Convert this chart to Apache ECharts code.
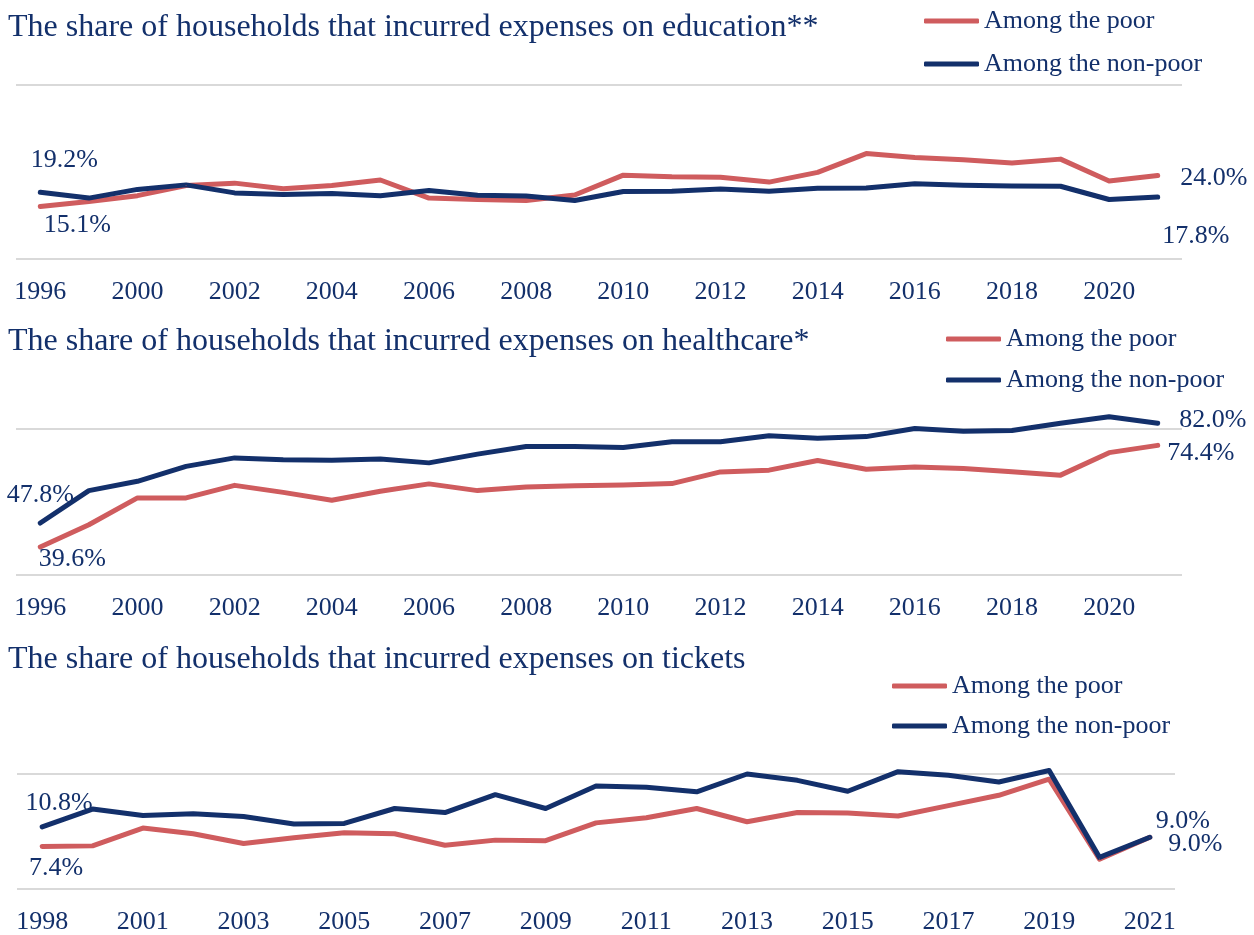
<!DOCTYPE html>
<html>
<head>
<meta charset="utf-8">
<script src="https://cdn.jsdelivr.net/npm/echarts@6/dist/echarts.min.js"></script>
<style>
html, body { margin: 0; padding: 0; background: #ffffff; }
#chartArea { width: 1254px; height: 935px; }
</style>
</head>
<body>
<div id="chartArea"></div>
<script>
// survey rounds
var eduYears = ['1996', '1998', '2000', '2001', '2002', '2003', '2004', '2005', '2006', '2007', '2008', '2009',
    '2010', '2011', '2012', '2013', '2014', '2015', '2016', '2017', '2018', '2019', '2020', '2021'];
var eduPoor = [15.1, 16.5, 18.2, 21.1, 21.8, 20.2, 21.1, 22.7, 17.5, 17.1, 16.8, 18.4,
    24.1, 23.6, 23.5, 22.1, 24.9, 30.3, 29.2, 28.5, 27.6, 28.7, 22.4, 24.0];
var eduNonPoor = [19.2, 17.5, 20.0, 21.3, 19.0, 18.5, 18.8, 18.2, 19.7, 18.3, 18.1, 16.8,
    19.4, 19.5, 20.1, 19.5, 20.3, 20.4, 21.6, 21.2, 21.0, 20.9, 17.1, 17.8];

var healthYears = eduYears;
var healthPoor = [39.6, 47.2, 56.4, 56.4, 60.7, 58.3, 55.6, 58.7, 61.2, 58.9, 60.1, 60.6,
    60.8, 61.3, 65.3, 65.9, 69.2, 66.2, 67.0, 66.5, 65.4, 64.2, 71.9, 74.4];
var healthNonPoor = [47.8, 58.9, 62.1, 67.2, 70.1, 69.5, 69.3, 69.7, 68.4, 71.4, 74.0, 74.0,
    73.7, 75.6, 75.6, 77.7, 76.8, 77.4, 80.2, 79.2, 79.5, 82.0, 84.2, 82.0];

var ticketYears = ['1998', '2000', '2001', '2002', '2003', '2004', '2005', '2006', '2007', '2008', '2009', '2010',
    '2011', '2012', '2013', '2014', '2015', '2016', '2017', '2018', '2019', '2020', '2021'];
var ticketPoor = [7.4, 7.5, 10.6, 9.6, 7.9, 8.9, 9.8, 9.6, 7.6, 8.5, 8.4, 11.5,
    12.4, 14.0, 11.7, 13.3, 13.2, 12.7, 14.5, 16.3, 19.1, 5.2, 9.0];
var ticketNonPoor = [10.8, 13.9, 12.8, 13.1, 12.6, 11.3, 11.4, 14.0, 13.3, 16.4, 14.0, 17.9,
    17.7, 16.9, 20.0, 18.9, 17.0, 20.4, 19.8, 18.6, 20.6, 5.5, 9.0];

var panelTitles = [
    'The share of households that incurred expenses on education**',
    'The share of households that incurred expenses on healthcare*',
    'The share of households that incurred expenses on tickets'
];
var seriesNames = ['Among the poor', 'Among the non-poor'];

var RED = '#CF5C5E';
var NAVY = '#13306B';
var FONT = '"Liberation Serif", "Times New Roman", serif';

var textStyle = {
    color: NAVY,
    fontFamily: FONT,
    fontSize: 26
};

// first / last value labels
function endLabels(values, first, last) {
    return values.map(function(v, i) {
        if (i === 0) return { value: v, label: Object.assign({ show: true }, first) };
        if (i === values.length - 1) return { value: v, label: Object.assign({ show: true }, last) };
        return v;
    });
}

function lineSeries(name, color, idx, data) {
    return {
        name: name,
        type: 'line',
        xAxisIndex: idx,
        yAxisIndex: idx,
        data: data,
        symbol: 'circle',
        symbolSize: 1,
        showSymbol: true,
        clip: false,
        silent: true,
        itemStyle: { color: color },
        lineStyle: { color: color, width: 5, cap: 'round', join: 'round' },
        label: {
            show: false,
            color: NAVY,
            fontFamily: FONT,
            fontSize: 26,
            formatter: function(p) {
                return p.value.toFixed(1) + '%';
            }
        }
    };
}

var grids = [
    { left: 16, right: 72, top: 85, height: 174 },
    { left: 16, right: 72, top: 429, height: 146 },
    { left: 17, right: 79, top: 774, height: 116 }
];

function xAxis(idx, cats) {
    return {
        type: 'category',
        gridIndex: idx,
        data: cats,
        boundaryGap: true,
        axisLine: { show: false },
        axisTick: { show: false },
        axisLabel: Object.assign({ interval: 1, margin: 20 }, textStyle)
    };
}

function yAxis(idx, min, max, step) {
    return {
        type: 'value',
        gridIndex: idx,
        min: min,
        max: max,
        interval: step,
        axisLine: { show: false },
        axisTick: { show: false },
        axisLabel: { show: false },
        splitLine: { show: true, lineStyle: { color: '#D9D9D9', width: 2 } }
    };
}

function legend(left, top, gap) {
    return {
        orient: 'vertical',
        left: left,
        top: top,
        padding: 0,
        itemGap: gap,
        itemWidth: 55,
        itemHeight: 5,
        icon: 'roundRect',
        selectedMode: false,
        data: seriesNames,
        textStyle: textStyle
    };
}

var myChart = echarts.init(document.getElementById('chartArea'));

var option = {
    backgroundColor: '#ffffff',
    animation: false,
    title: [
        { text: panelTitles[0], left: 8, top: 12 },
        { text: panelTitles[1], left: 8, top: 326 },
        { text: panelTitles[2], left: 8, top: 644 }
    ].map(function(t) {
        t.padding = 0;
        t.textStyle = { color: NAVY, fontFamily: FONT, fontSize: 32, fontWeight: 'normal' };
        return t;
    }),
    legend: [
        legend(924, 8, 17),
        legend(946, 326, 15),
        legend(892, 673, 14)
    ],
    grid: grids,
    xAxis: [xAxis(0, eduYears), xAxis(1, healthYears), xAxis(2, ticketYears)],
    yAxis: [yAxis(0, 0, 50, 50), yAxis(1, 30, 80, 50), yAxis(2, 0, 20, 20)],
    series: [
        lineSeries(seriesNames[0], RED, 0, endLabels(eduPoor,
            { position: 'bottom', offset: [37, 0] },
            { position: 'right', offset: [17, 3] })),
        lineSeries(seriesNames[1], NAVY, 0, endLabels(eduNonPoor,
            { position: 'top', offset: [24, -14] },
            { position: 'bottom', offset: [38, 21] })),
        lineSeries(seriesNames[0], RED, 1, endLabels(healthPoor,
            { position: 'bottom', offset: [32, -6] },
            { position: 'right', offset: [4, 8] })),
        lineSeries(seriesNames[1], NAVY, 1, endLabels(healthNonPoor,
            { position: 'top', offset: [0, -9] },
            { position: 'right', offset: [16, -3] })),
        lineSeries(seriesNames[0], RED, 2, endLabels(ticketPoor,
            { position: 'bottom', offset: [14, 3] },
            { position: 'right', offset: [13, 7] })),
        lineSeries(seriesNames[1], NAVY, 2, endLabels(ticketNonPoor,
            { position: 'top', offset: [17, -5] },
            { position: 'top', offset: [33, 2] }))
    ]
};

myChart.setOption(option);
</script>
</body>
</html>
